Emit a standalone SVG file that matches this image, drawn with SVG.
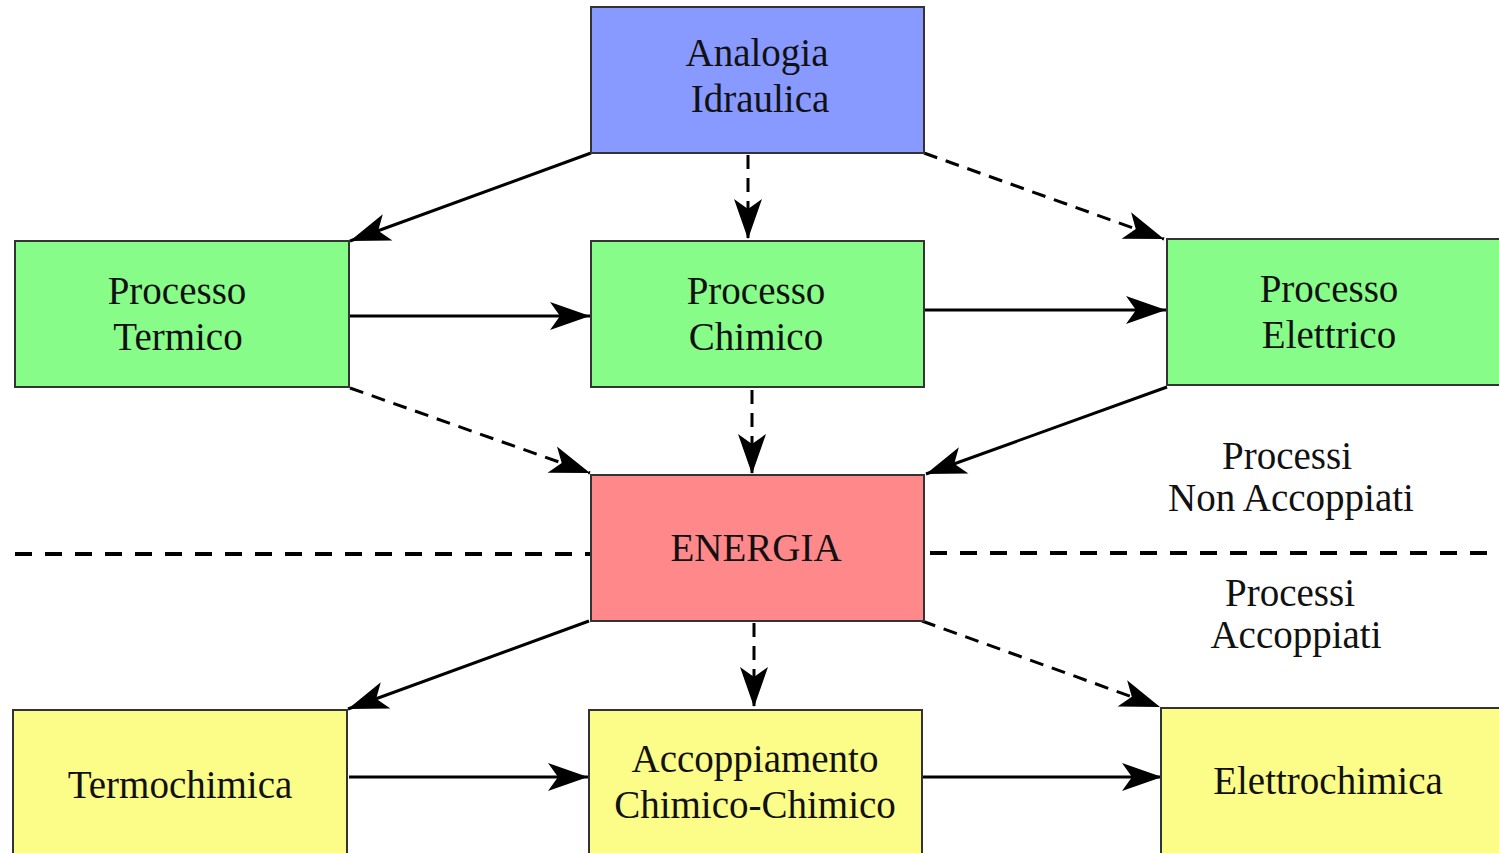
<svg xmlns="http://www.w3.org/2000/svg" width="1499" height="853" viewBox="0 0 1499 853">
<defs>
<marker id="ah" markerUnits="userSpaceOnUse" viewBox="-42 -16 44 32" markerWidth="44" markerHeight="32" refX="0" refY="0" orient="auto">
<path d="M0,0 L-40,-14 L-30,0 L-40,14 Z" fill="#000"/>
</marker>
</defs>
<style>
.box{stroke:#333;stroke-width:2}
.blue{fill:#8899ff}
.green{fill:#88fc88}
.red{fill:#ff888a}
.yellow{fill:#fcfc88}
text{font-size:39px;fill:#111;text-anchor:middle}
.c line{stroke:#000;stroke-width:3;marker-end:url(#ah)}
.c line.d{stroke-dasharray:14,9}
.sep line{stroke:#000;stroke-width:4;stroke-dasharray:17,13}
</style>
<rect width="1499" height="853" fill="#fff"/>
<g class="sep">
<line x1="15" y1="554" x2="590" y2="554"/>
<line x1="930" y1="553" x2="1492" y2="553"/>
</g>
<g class="c">
<line x1="591" y1="153" x2="350" y2="241"/>
<line class="d" x1="748" y1="155" x2="748" y2="239"/>
<line class="d" x1="924" y1="153" x2="1164" y2="239"/>
<line x1="350" y1="316" x2="590" y2="316"/>
<line x1="924" y1="310" x2="1166" y2="310"/>
<line class="d" x1="350" y1="388" x2="590" y2="473"/>
<line class="d" x1="752" y1="390" x2="752" y2="474"/>
<line x1="1167" y1="387" x2="926" y2="474"/>
<line x1="589" y1="621" x2="348" y2="709"/>
<line class="d" x1="754" y1="623" x2="754" y2="707"/>
<line class="d" x1="922" y1="621" x2="1160" y2="707"/>
<line x1="349" y1="777" x2="588" y2="777"/>
<line x1="922" y1="777" x2="1162" y2="777"/>
</g>
<g font-family="Liberation Serif, Times New Roman, serif">
<g id="analogia"><rect class="box blue" x="591" y="7" width="333" height="146"/><text x="757" y="66">Analogia</text><text x="760" y="112">Idraulica</text></g>
<g id="termico"><rect class="box green" x="15" y="241" width="334" height="146"/><text x="177" y="304">Processo</text><text x="178" y="350">Termico</text></g>
<g id="chimico"><rect class="box green" x="591" y="241" width="333" height="146"/><text x="756" y="304">Processo</text><text x="756" y="350">Chimico</text></g>
<g id="elettrico"><rect class="box green" x="1167" y="239" width="340" height="146"/><text x="1329" y="302">Processo</text><text x="1329" y="348">Elettrico</text></g>
<g id="energia"><rect class="box red" x="591" y="475" width="333" height="146"/><text x="756" y="561">ENERGIA</text></g>
<g id="termochimica"><rect class="box yellow" x="13" y="710" width="334" height="150"/><text x="180" y="798">Termochimica</text></g>
<g id="accoppiamento"><rect class="box yellow" x="589" y="710" width="333" height="150"/><text x="755" y="772">Accoppiamento</text><text x="755" y="818">Chimico-Chimico</text></g>
<g id="elettrochimica"><rect class="box yellow" x="1161" y="708" width="346" height="152"/><text x="1328" y="794">Elettrochimica</text></g>
<g id="labels"><text x="1287" y="469">Processi</text><text x="1291" y="511">Non Accoppiati</text><text x="1290" y="606">Processi</text><text x="1296" y="648">Accoppiati</text></g>
</g>
</svg>
